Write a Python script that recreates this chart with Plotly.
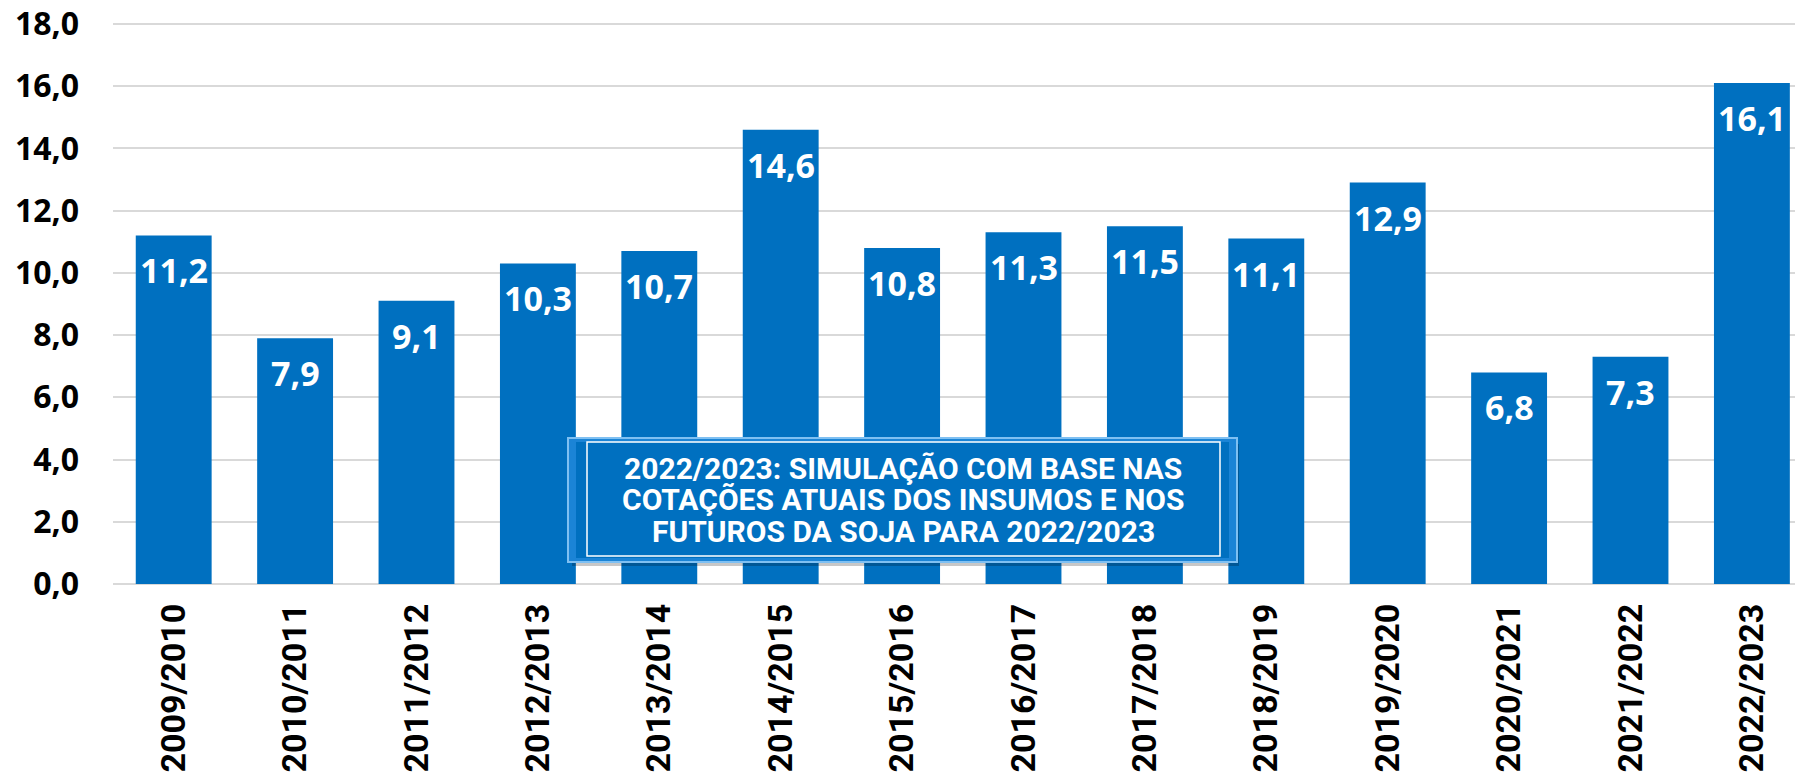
import plotly.graph_objects as go

categories = ["2009/2010", "2010/2011", "2011/2012", "2012/2013", "2013/2014", "2014/2015",
              "2015/2016", "2016/2017", "2017/2018", "2018/2019", "2019/2020", "2020/2021",
              "2021/2022", "2022/2023"]
values = [11.2, 7.9, 9.1, 10.3, 10.7, 14.6, 10.8, 11.3, 11.5, 11.1, 12.9, 6.8, 7.3, 16.1]
y_ticks = [0, 2, 4, 6, 8, 10, 12, 14, 16, 18]
note_lines = ["2022/2023: SIMULAÇÃO COM BASE NAS",
              "COTAÇÕES ATUAIS DOS INSUMOS E NOS",
              "FUTUROS DA SOJA PARA 2022/2023"]

BLUE = "#0070C0"
OFF = 8  # default page body margin
W, H = 1803 - OFF, 781 - OFF
YMAX = 18.06
L, R, B = 113 - OFF, 0, 197
T = int(round(24 - OFF - (YMAX - 18) * 31.1))
pw, ph = W - L - R, H - T - B

def px(x):
    return (x - OFF - L) / pw

def py(y):
    return (H - B - (y - OFF)) / ph

fig = go.Figure()
fig.add_trace(go.Bar(x=list(range(len(categories))), y=values, marker_color=BLUE,
                     marker_line_width=0, width=0.625, hoverinfo="skip"))

annotations = []
for i, v in enumerate(values):
    annotations.append(dict(x=i, y=v, xref="x", yref="y", text=f"{v:.1f}".replace(".", ","),
                            showarrow=False, yanchor="top", yshift=-10,
                            font=dict(family="Open Sans", size=34, color="white", weight="bold")))

shapes = [
    dict(type="rect", xref="paper", yref="paper", x0=px(572), x1=px(1239), y0=py(444), y1=py(566),
         fillcolor="rgba(0,0,0,0.22)", line_width=0, layer="above"),
    dict(type="rect", xref="paper", yref="paper", x0=px(568), x1=px(1237), y0=py(438), y1=py(562),
         fillcolor="#1B84D6", line=dict(color="#7FC0F2", width=2), layer="above"),
    dict(type="rect", xref="paper", yref="paper", x0=px(576), x1=px(1229), y0=py(442), y1=py(558),
         fillcolor=BLUE, line=dict(color=BLUE, width=0), layer="above"),
    dict(type="rect", xref="paper", yref="paper", x0=px(587), x1=px(1220), y0=py(442), y1=py(556),
         fillcolor=BLUE, line=dict(color="white", width=1.5), layer="above"),
]
for k, line in enumerate(note_lines):
    annotations.append(dict(x=px(903), y=py(468 + 31.5 * k), xref="paper", yref="paper", text=line,
                            showarrow=False, xanchor="center", yanchor="middle",
                            font=dict(family="Roboto", size=30, color="white", weight="bold")))

fig.update_layout(
    width=W, height=H,
    margin=dict(l=L, r=R, t=T, b=B, pad=0, autoexpand=False),
    paper_bgcolor="white", plot_bgcolor="white",
    separators=",.",
    showlegend=False,
    shapes=shapes,
    annotations=annotations,
    xaxis=dict(tickmode="array", tickvals=list(range(len(categories))), ticktext=categories,
               range=[-0.5, -0.5 + pw / 121.4], tickangle=-90, showgrid=False, zeroline=False,
               showline=False, ticks="", ticklabelstandoff=12, automargin=False,
               ticklabeloverflow="allow",
               tickfont=dict(family="Roboto", size=34, color="black", weight="bold")),
    yaxis=dict(range=[0, YMAX], tickvals=y_ticks, tickformat=".1f", showgrid=True,
               gridcolor="#D9D9D9", gridwidth=2, zeroline=True, zerolinecolor="#D9D9D9",
               zerolinewidth=2, showline=False, ticks="", ticklabelstandoff=33, automargin=False,
               ticklabeloverflow="allow",
               tickfont=dict(family="Open Sans", size=32, color="black", weight="bold")),
)

fig.write_html("out.html")
